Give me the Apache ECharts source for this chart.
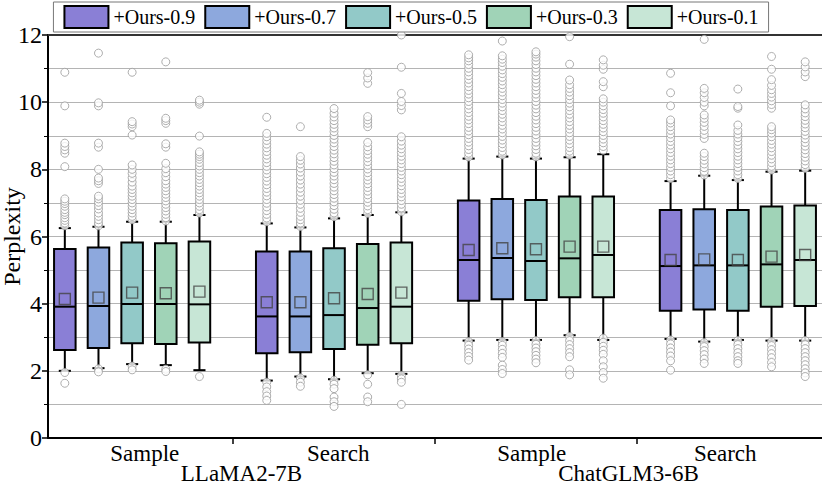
<!DOCTYPE html>
<html>
<head>
<meta charset="utf-8">
<script src="https://cdn.jsdelivr.net/npm/echarts@6/dist/echarts.min.js"></script>
<style>html,body{margin:0;padding:0;background:#fff}#c{width:822px;height:485px}</style>
</head>
<body>
<div id="c"></div>
<script>
// ---------- data ----------
const models = ['LLaMA2-7B', 'ChatGLM3-6B'];
const methods = ['Sample', 'Search', 'Sample', 'Search'];
const seriesNames = ['+Ours-0.9', '+Ours-0.7', '+Ours-0.5', '+Ours-0.3', '+Ours-0.1'];
const yTicks = [0, 2, 4, 6, 8, 10, 12];

// [lower whisker, Q1, median, Q3, upper whisker] for the 4 method groups
const box09 = [[2.00, 2.62, 3.91, 5.63, 6.25], [1.71, 2.52, 3.62, 5.55, 6.39], [2.90, 4.09, 5.30, 7.07, 8.32], [2.95, 3.79, 5.12, 6.79, 7.65]];
const box07 = [[2.08, 2.68, 3.93, 5.67, 6.29], [1.83, 2.55, 3.62, 5.55, 6.27], [2.92, 4.13, 5.36, 7.12, 8.38], [2.87, 3.83, 5.14, 6.81, 7.81]];
const box05 = [[2.20, 2.82, 3.99, 5.82, 6.44], [1.75, 2.65, 3.66, 5.65, 6.54], [2.92, 4.11, 5.27, 7.09, 8.32], [2.92, 3.79, 5.14, 6.79, 7.68]];
const box03 = [[2.17, 2.80, 3.99, 5.80, 6.44], [1.93, 2.78, 3.87, 5.78, 6.64], [3.06, 4.19, 5.35, 7.19, 8.36], [2.90, 3.91, 5.17, 6.89, 7.93]];
const box01 = [[2.02, 2.84, 3.98, 5.85, 6.64], [1.91, 2.82, 3.91, 5.82, 6.72], [2.92, 4.19, 5.45, 7.19, 8.45], [2.90, 3.93, 5.30, 6.92, 7.96]];

const mean09 = [4.14, 4.04, 5.60, 5.30];
const mean07 = [4.18, 4.04, 5.65, 5.32];
const mean05 = [4.33, 4.16, 5.62, 5.30];
const mean03 = [4.31, 4.29, 5.70, 5.40];
const mean01 = [4.36, 4.33, 5.70, 5.45];

const out09 = [
  [6.32, 6.40, 6.48, 6.56, 6.65, 6.72, 6.80, 6.90, 6.98, 7.05, 7.12, 8.08, 8.48, 8.58, 8.68, 8.78, 9.89, 10.89, 1.95, 1.63],
  [6.44, 6.55, 6.66, 6.77, 6.88, 6.99, 7.10, 7.21, 7.32, 7.43, 7.54, 7.65, 7.76, 7.87, 7.98, 8.09, 8.20, 8.31, 8.42, 8.53, 8.64, 8.75, 8.86, 8.97, 9.07, 9.55, 1.66, 1.52, 1.38, 1.25, 1.12],
  [8.37, 8.48, 8.59, 8.70, 8.81, 8.92, 9.03, 9.14, 9.25, 9.36, 9.47, 9.58, 9.69, 9.80, 9.91, 10.02, 10.13, 10.24, 10.35, 10.46, 10.57, 10.68, 10.79, 10.90, 11.01, 11.12, 11.23, 11.32, 11.41, 2.87, 2.76, 2.65, 2.54, 2.43, 2.32],
  [7.73, 7.84, 7.95, 8.06, 8.17, 8.28, 8.39, 8.50, 8.61, 8.72, 8.83, 8.94, 9.05, 9.16, 9.27, 9.38, 9.47, 9.89, 10.28, 10.86, 2.92, 2.80, 2.68, 2.56, 2.44, 2.30, 2.02]
];
const out07 = [
  [6.32, 6.40, 6.50, 6.60, 6.70, 6.82, 6.92, 7.02, 7.12, 7.20, 7.58, 7.66, 7.74, 8.00, 8.66, 8.78, 9.89, 9.98, 11.46, 2.06, 1.97],
  [6.30, 6.40, 6.50, 6.60, 6.72, 6.84, 6.96, 7.08, 7.20, 7.32, 7.44, 7.56, 7.68, 7.80, 7.92, 8.04, 8.16, 8.27, 8.38, 9.27, 1.79, 1.66, 1.54],
  [8.43, 8.54, 8.65, 8.76, 8.87, 8.98, 9.09, 9.20, 9.31, 9.42, 9.53, 9.64, 9.75, 9.86, 9.97, 10.08, 10.19, 10.30, 10.41, 10.52, 10.63, 10.74, 10.85, 10.96, 11.07, 11.18, 11.28, 11.38, 11.82, 2.87, 2.76, 2.64, 2.52, 2.40, 2.17, 2.04, 1.92],
  [7.83, 7.94, 8.05, 8.16, 8.27, 8.38, 8.48, 8.92, 9.04, 9.16, 9.28, 9.40, 9.52, 9.62, 9.89, 10.00, 10.14, 10.28, 10.41, 11.87, 2.84, 2.72, 2.60, 2.48, 2.35, 2.22]
];
const out05 = [
  [6.50, 6.60, 6.70, 6.80, 6.90, 7.00, 7.10, 7.20, 7.30, 7.40, 7.50, 7.62, 7.75, 7.88, 8.00, 8.13, 9.02, 9.27, 9.35, 9.42, 10.89, 2.14, 2.03],
  [6.59, 6.70, 6.81, 6.92, 7.03, 7.14, 7.25, 7.36, 7.47, 7.58, 7.69, 7.80, 7.91, 8.02, 8.13, 8.24, 8.35, 8.46, 8.57, 8.68, 8.79, 8.90, 9.01, 9.12, 9.23, 9.34, 9.45, 9.56, 9.67, 9.81, 1.72, 1.60, 1.47, 1.22, 1.08, 0.94],
  [8.37, 8.48, 8.59, 8.70, 8.81, 8.92, 9.03, 9.14, 9.25, 9.36, 9.47, 9.58, 9.69, 9.80, 9.91, 10.02, 10.13, 10.24, 10.35, 10.46, 10.57, 10.68, 10.79, 10.90, 11.01, 11.12, 11.23, 11.34, 11.43, 11.50, 2.90, 2.79, 2.68, 2.57, 2.46, 2.35, 2.24],
  [7.73, 7.84, 7.95, 8.06, 8.17, 8.28, 8.39, 8.50, 8.61, 8.72, 8.83, 8.94, 9.05, 9.16, 9.32, 9.82, 9.87, 10.39, 2.90, 2.78, 2.66, 2.54, 2.42, 2.30, 2.22]
];
const out03 = [
  [6.46, 6.56, 6.66, 6.76, 6.86, 6.96, 7.06, 7.16, 7.26, 7.36, 7.46, 7.56, 7.66, 7.78, 7.90, 8.02, 8.18, 8.66, 8.76, 9.37, 9.45, 9.52, 11.20, 2.05, 1.98],
  [6.69, 6.80, 6.91, 7.02, 7.13, 7.24, 7.35, 7.46, 7.57, 7.68, 7.79, 7.90, 8.01, 8.12, 8.23, 8.34, 8.45, 8.56, 8.67, 8.80, 9.27, 9.37, 9.47, 9.57, 10.56, 10.72, 10.88, 1.88, 1.60, 1.22, 1.08],
  [8.43, 8.54, 8.65, 8.76, 8.87, 8.98, 9.09, 9.20, 9.31, 9.42, 9.53, 9.64, 9.75, 9.86, 9.97, 10.08, 10.19, 10.30, 10.41, 10.52, 10.66, 11.13, 11.95, 3.02, 2.90, 2.78, 2.66, 2.54, 2.42, 2.03, 1.88],
  [7.98, 8.09, 8.20, 8.31, 8.42, 8.53, 8.64, 8.75, 8.86, 8.97, 9.08, 9.18, 9.27, 9.82, 9.93, 10.04, 10.15, 10.26, 10.37, 10.50, 10.67, 10.98, 11.36, 2.87, 2.75, 2.63, 2.51, 2.39, 2.25, 2.12]
];
const out01 = [
  [6.70, 6.80, 6.90, 7.00, 7.10, 7.20, 7.30, 7.40, 7.50, 7.60, 7.70, 7.80, 7.90, 8.00, 8.10, 8.20, 8.30, 8.38, 8.45, 8.52, 8.99, 9.94, 10.00, 10.06, 1.83],
  [6.74, 6.85, 6.96, 7.07, 7.18, 7.29, 7.40, 7.51, 7.62, 7.73, 7.84, 7.95, 8.06, 8.17, 8.28, 8.39, 8.50, 8.61, 8.72, 8.84, 8.97, 9.77, 9.90, 10.02, 10.26, 11.04, 12.00, 1.86, 1.76, 1.66, 1.00],
  [8.57, 8.68, 8.79, 8.90, 9.01, 9.12, 9.23, 9.34, 9.45, 9.56, 9.67, 9.78, 9.89, 10.00, 10.10, 10.46, 10.61, 10.98, 11.10, 11.26, 2.97, 2.85, 2.73, 2.61, 2.49, 2.30, 2.12, 1.95, 1.78],
  [8.03, 8.14, 8.25, 8.36, 8.47, 8.58, 8.69, 8.80, 8.91, 9.02, 9.13, 9.24, 9.35, 9.46, 9.57, 9.68, 9.80, 9.92, 10.76, 10.90, 11.05, 11.20, 2.90, 2.78, 2.66, 2.54, 2.42, 2.30, 2.18, 2.06, 1.94, 1.83]
];

// ---------- styles ----------
const colors = ['#8a7fd6', '#8da8dd', '#92c9c8', '#a0d3b7', '#c7e6d6'];
const FONT = '"Liberation Serif", "Times New Roman", Times, serif';

const allBoxes = [box09, box07, box05, box03, box01];
const allMeans = [mean09, mean07, mean05, mean03, mean01];
const allOut = [out09, out07, out05, out03, out01];
const perGroup = seriesNames.length + 1; // 5 boxes + a gap slot

// slot categories
const slots = [];
methods.forEach((m, g) => {
  seriesNames.forEach(s => slots.push(models[Math.floor(g / 2)] + ' ' + m + ' ' + s));
  if (g < methods.length - 1) slots.push('gap' + g);
});

function renderBox(params, api) {
  const x = api.value(0);
  const pLow = api.coord([x, api.value(1)]);
  const pQ1 = api.coord([x, api.value(2)]);
  const pMed = api.coord([x, api.value(3)]);
  const pQ3 = api.coord([x, api.value(4)]);
  const pHigh = api.coord([x, api.value(5)]);
  const band = api.size([1, 0])[0];
  const bw = band * 0.64, cw = band * 0.36;
  const cx = pMed[0];
  const ls = { stroke: '#000', lineWidth: 2 };
  return {
    type: 'group',
    children: [
      { type: 'line', shape: { x1: cx, y1: pQ3[1], x2: cx, y2: pHigh[1] }, style: ls },
      { type: 'line', shape: { x1: cx, y1: pQ1[1], x2: cx, y2: pLow[1] }, style: ls },
      { type: 'line', shape: { x1: cx - cw / 2, y1: pHigh[1], x2: cx + cw / 2, y2: pHigh[1] }, style: ls },
      { type: 'line', shape: { x1: cx - cw / 2, y1: pLow[1], x2: cx + cw / 2, y2: pLow[1] }, style: ls },
      { type: 'rect', shape: { x: cx - bw / 2, y: pQ3[1], width: bw, height: pQ1[1] - pQ3[1] },
        style: { fill: api.visual('color'), stroke: '#000', lineWidth: 2 } },
      { type: 'line', shape: { x1: cx - bw / 2, y1: pMed[1], x2: cx + bw / 2, y2: pMed[1] }, style: ls }
    ]
  };
}

const series = [];
const outlierData = [];
const meanData = [];
seriesNames.forEach((name, s) => {
  const data = allBoxes[s].map((b, g) => [g * perGroup + s].concat(b));
  series.push({
    name: name,
    type: 'custom',
    renderItem: renderBox,
    itemStyle: { color: colors[s], borderColor: '#000', borderWidth: 1.5 },
    encode: { x: 0, y: [1, 2, 3, 4, 5] },
    data: data,
    z: 2
  });
  allMeans[s].forEach((m, g) => meanData.push([g * perGroup + s, m]));
  allOut[s].forEach((arr, g) => arr.forEach(v => outlierData.push([g * perGroup + s, v])));
});
series.push({
  name: 'outliers', type: 'scatter', data: outlierData, symbol: 'circle', symbolSize: 8,
  itemStyle: { color: '#fff', borderColor: '#9a9a9a', borderWidth: 1 }, z: 3, silent: true
});
series.push({
  name: 'mean', type: 'scatter', data: meanData, symbol: 'rect', symbolSize: 11,
  itemStyle: { color: 'rgba(0,0,0,0)', borderColor: '#444', borderWidth: 1.4 }, z: 4, silent: true
});

const chart = echarts.init(document.getElementById('c'), null, { renderer: 'svg' });
chart.setOption({
  animation: false,
  backgroundColor: '#fff',
  textStyle: { fontFamily: FONT },
  legend: {
    data: seriesNames,
    top: 2, left: 'center',
    icon: 'rect', itemWidth: 44, itemHeight: 22, itemGap: 9,
    padding: [3, 10],
    borderColor: '#777', borderWidth: 1, backgroundColor: '#fff',
    textStyle: { fontFamily: FONT, fontSize: 20, color: '#000' }
  },
  grid: { left: 48, right: 0, top: 35, bottom: 47, containLabel: false, outerBoundsMode: 'none' },
  xAxis: [
    {
      type: 'category', data: slots, position: 'bottom',
      axisLine: { onZero: false, lineStyle: { color: '#000', width: 2 } },
      axisTick: { show: true, alignWithLabel: true, length: 6, interval: (i) => i % perGroup === perGroup - 1, lineStyle: { color: '#000', width: 1.5 } },
      axisLabel: { show: false }, splitLine: { show: false }
    },
    {
      type: 'category', data: methods, position: 'bottom',
      axisLine: { show: false }, axisTick: { show: false },
      axisLabel: { fontFamily: FONT, fontSize: 23, color: '#000', margin: 4 }
    },
    {
      type: 'category', data: models, position: 'bottom', offset: 20,
      axisLine: { show: false }, axisTick: { show: false },
      axisLabel: { fontFamily: FONT, fontSize: 23, color: '#000', margin: 4 }
    },
    {
      type: 'category', data: slots, position: 'top',
      axisLine: { onZero: false, lineStyle: { color: '#333', width: 2 } },
      axisTick: { show: false }, axisLabel: { show: false }
    }
  ],
  yAxis: {
    type: 'value', min: yTicks[0], max: yTicks[yTicks.length - 1], interval: 2,
    name: 'Perplexity', nameLocation: 'middle', nameGap: 24, nameMoveOverlap: false,
    nameTextStyle: { fontFamily: FONT, fontSize: 24, color: '#000' },
    axisLine: { show: true, lineStyle: { color: '#000', width: 2 } },
    axisTick: { show: true, length: 6, lineStyle: { color: '#000', width: 1.5 } },
    minorTick: { show: true, splitNumber: 2, length: 4, lineStyle: { color: '#000', width: 1 } },
    axisLabel: { fontFamily: FONT, fontSize: 24, color: '#000', margin: 6 },
    splitLine: { show: true, lineStyle: { color: '#b4b4b4', width: 1 } },
    minorSplitLine: { show: true, lineStyle: { color: '#b4b4b4', width: 1 } }
  },
  series: series
});
</script>
</body>
</html>
